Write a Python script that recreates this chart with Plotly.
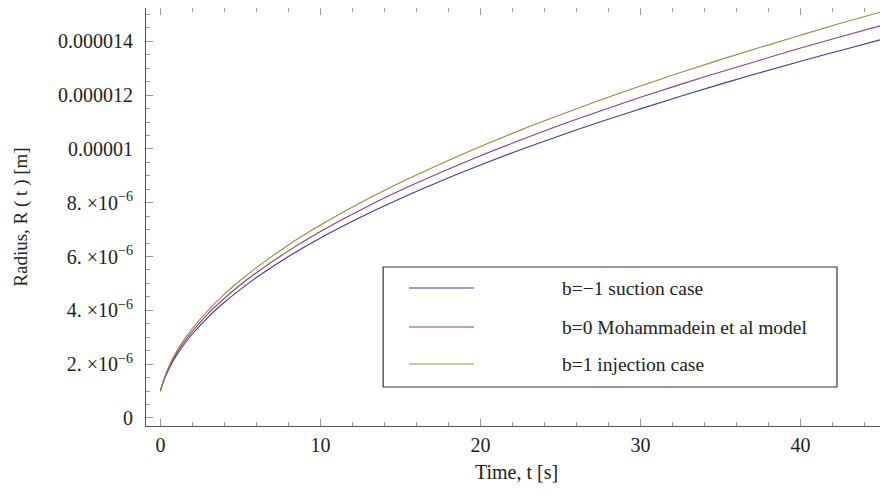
import plotly.graph_objects as go

# Time [s]
t = [0, 0.1, 0.25, 0.5, 0.75, 1, 1.5, 2, 3, 4, 5, 6, 8, 10, 12.5, 15, 17.5,
     20, 22.5, 25, 27.5, 30, 32.5, 35, 37.5, 40, 42.5, 45]

# Radius values in micrometres
r_suction = [1.00, 1.20, 1.45, 1.78, 2.07, 2.32, 2.75, 3.12, 3.76, 4.30, 4.78,
             5.22, 6.00, 6.69, 7.46, 8.16, 8.80, 9.40, 9.97, 10.50, 11.01,
             11.49, 11.96, 12.41, 12.84, 13.26, 13.66, 14.06]
r_model = [1.00, 1.21, 1.47, 1.83, 2.13, 2.39, 2.84, 3.22, 3.89, 4.45, 4.95,
           5.40, 6.21, 6.93, 7.73, 8.46, 9.12, 9.75, 10.33, 10.89, 11.41,
           11.92, 12.40, 12.86, 13.31, 13.75, 14.17, 14.58]
r_injection = [1.00, 1.23, 1.50, 1.88, 2.19, 2.46, 2.93, 3.33, 4.01, 4.60, 5.12,
               5.59, 6.43, 7.17, 8.00, 8.75, 9.44, 10.09, 10.70, 11.27, 11.82,
               12.34, 12.84, 13.32, 13.78, 14.23, 14.67, 15.09]

names = ["b=\u22121 suction case", "b=0 Mohammadein et al model", "b=1 injection case"]
colors = ["#3D3D99", "#993D71", "#998C3D"]
series = [r_suction, r_model, r_injection]

x_ticks = [0, 10, 20, 30, 40]
y_tickvals = [0, 2e-6, 4e-6, 6e-6, 8e-6, 1e-5, 1.2e-5, 1.4e-5]
y_ticktext = ["0", "2. \u00d710<sup>\u22126</sup>", "4. \u00d710<sup>\u22126</sup>",
              "6. \u00d710<sup>\u22126</sup>", "8. \u00d710<sup>\u22126</sup>",
              "0.00001", "0.000012", "0.000014"]

font = "Liberation Serif"
fig = go.Figure()
for name, col, vals in zip(names, colors, series):
    fig.add_trace(go.Scatter(x=t, y=[v * 1e-6 for v in vals], mode="lines",
                             name=name, line=dict(color=col, width=1.1, shape="spline"),
                             showlegend=False))

frame = "#555555"
tickc = "#999999"
fig.update_layout(
    width=880, height=491,
    margin=dict(l=138, r=1, t=0, b=73),
    paper_bgcolor="white", plot_bgcolor="white",
    font=dict(family=font, size=20, color="#222222"),
    xaxis=dict(range=[-0.9, 45.4], tickvals=x_ticks, ticks="inside", ticklen=7,
               tickcolor=tickc, showline=True, linecolor=frame, linewidth=1,
               mirror="ticks", showgrid=False, zeroline=False, automargin=False,
               minor=dict(ticks="inside", dtick=2, ticklen=4, tickcolor=tickc),
               ticklabelstandoff=1,
               title=dict(text="Time, t [s]", standoff=9, font=dict(size=20))),
    yaxis=dict(range=[-0.3e-6, 15.24e-6], tickvals=y_tickvals, ticktext=y_ticktext,
               ticks="inside", ticklen=7, tickcolor=tickc, showline=True,
               linecolor=frame, linewidth=1, mirror="ticks", showgrid=False,
               zeroline=False, automargin=False,
               minor=dict(ticks="inside", dtick=0.5e-6, ticklen=4, tickcolor=tickc),
               ticklabelstandoff=8,
               title=dict(text="Radius, R ( t ) [m]", standoff=25, font=dict(size=19))),
)

# Legend box drawn like the original
fig.add_shape(type="rect", xref="paper", yref="paper", x0=0.320, x1=0.9325,
              y0=0.0933, y1=0.3804, line=dict(color="#333333", width=1.2),
              fillcolor="white", layer="above")
rows = [0.330, 0.2368, 0.1483]
for name, col, yr in zip(names, colors, rows):
    fig.add_shape(type="line", xref="paper", yref="paper", x0=0.355, x1=0.4426,
                  y0=yr, y1=yr, line=dict(color=col, width=1.1), layer="above")
    fig.add_annotation(xref="paper", yref="paper", x=0.5587, y=yr, text=name,
                       showarrow=False, xanchor="left", yanchor="middle",
                       font=dict(family=font, size=19.5, color="#222222"))

fig.write_html("out.html")
